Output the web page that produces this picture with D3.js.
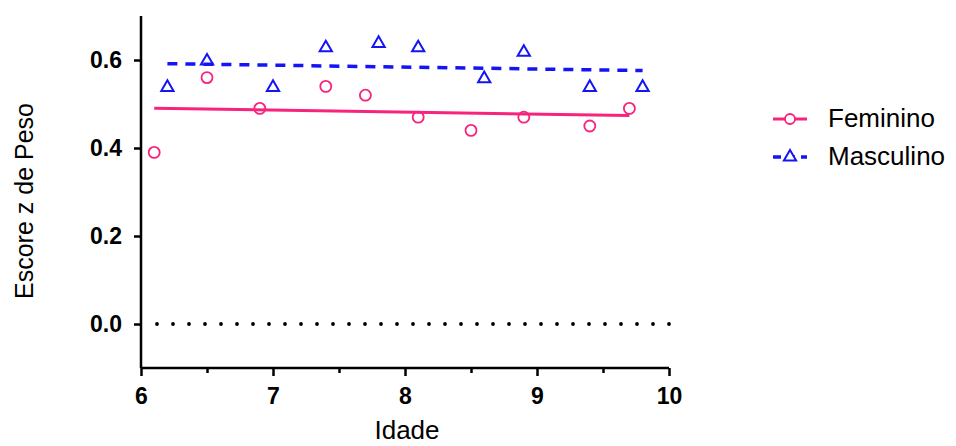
<!DOCTYPE html>
<html>
<head>
<meta charset="utf-8">
<script src="https://cdn.jsdelivr.net/npm/d3@7"></script>
<style>
body { margin: 0; background: #fff; }
text { font-family: "Liberation Sans", Arial, sans-serif; }
</style>
</head>
<body>
<svg id="chart" width="956" height="446"></svg>
<script>
// data
var femIdade = [6.1, 6.5, 6.9, 7.4, 7.7, 8.1, 8.5, 8.9, 9.4, 9.7];
var femEscore = [0.39, 0.56, 0.49, 0.54, 0.52, 0.47, 0.44, 0.47, 0.45, 0.49];
var mascIdade = [6.2, 6.5, 7.0, 7.4, 7.8, 8.1, 8.6, 8.9, 9.4, 9.8];
var mascEscore = [0.54, 0.60, 0.54, 0.63, 0.64, 0.63, 0.56, 0.62, 0.54, 0.54];
var xTicks = [6, 7, 8, 9, 10];
var xMinor = [6.5, 7.5, 8.5, 9.5];
var yTicks = [0.0, 0.2, 0.4, 0.6];

var pink = "#f7237d";
var blue = "#1414f5";

var svg = d3.select("#chart");

var x = d3.scaleLinear().domain([6, 10]).range([141, 669]);
var y = d3.scaleLinear().domain([-0.1, 0.7]).range([368, 16]);

// linear fit for each series
function fit(xs, ys) {
	let mx = d3.mean(xs), my = d3.mean(ys);
	let sxy = 0, sxx = 0;
	for (let i = 0; i < xs.length; i++) {
		sxy += (xs[i] - mx) * (ys[i] - my);
		sxx += (xs[i] - mx) * (xs[i] - mx);
	}
	let b = sxy / sxx;
	let x0 = d3.min(xs), x1 = d3.max(xs);
	return [[x0, my + b * (x0 - mx)], [x1, my + b * (x1 - mx)]];
}

// zero reference line
svg.append("line")
	.attr("x1", x(6) + 16).attr("x2", x(10) + 1)
	.attr("y1", y(0)).attr("y2", y(0))
	.attr("stroke", "#000")
	.attr("stroke-width", 3.8)
	.attr("stroke-linecap", "round")
	.attr("stroke-dasharray", "0 16");

// axes
var yAxis = svg.append("g")
	.attr("transform", "translate(" + x(6) + ",0)")
	.call(d3.axisLeft(y).tickValues(yTicks).tickFormat(d3.format(".1f")).tickSize(7).tickPadding(12));
var xAxis = svg.append("g")
	.attr("transform", "translate(0," + y(-0.1) + ")")
	.call(d3.axisBottom(x).tickValues(xTicks).tickFormat(d3.format("d")).tickSize(8).tickPadding(12));

svg.append("g")
	.attr("transform", "translate(0," + y(-0.1) + ")")
	.call(d3.axisBottom(x).tickValues(xMinor).tickFormat("").tickSize(5))
	.select(".domain").remove();

svg.selectAll(".domain").attr("stroke", "#000").attr("stroke-width", 2.5);
svg.selectAll(".tick line").attr("stroke", "#000").attr("stroke-width", 2.5);
yAxis.select(".domain").attr("d", "M0," + y(0.7) + "V" + y(-0.1));
xAxis.select(".domain").attr("d", "M" + x(6) + ",0H" + x(10));
svg.selectAll(".tick text")
	.attr("font-family", "'Liberation Sans', Arial, sans-serif")
	.attr("font-size", 23)
	.attr("font-weight", "bold")
	.attr("fill", "#000");

// axis titles
svg.append("text")
	.attr("x", 407).attr("y", 439)
	.attr("text-anchor", "middle")
	.attr("font-size", 26)
	.text("Idade");
svg.append("text")
	.attr("transform", "translate(33,201) rotate(-90)")
	.attr("text-anchor", "middle")
	.attr("font-size", 25)
	.text("Escore z de Peso");

var line = d3.line().x(d => x(d[0])).y(d => y(d[1]));

// fit lines
svg.append("path")
	.attr("d", line(fit(femIdade, femEscore)))
	.attr("fill", "none").attr("stroke", pink).attr("stroke-width", 3);
svg.append("path")
	.attr("d", line(fit(mascIdade, mascEscore)))
	.attr("fill", "none").attr("stroke", blue).attr("stroke-width", 3.5)
	.attr("stroke-dasharray", "10 8");

// points
var tri = d3.symbol().type(d3.symbolTriangle).size(65);

svg.selectAll(".fem")
	.data(d3.zip(femIdade, femEscore))
	.enter().append("circle")
	.attr("cx", d => x(d[0])).attr("cy", d => y(d[1]))
	.attr("r", 5.5)
	.attr("fill", "none").attr("stroke", pink).attr("stroke-width", 1.8);

svg.selectAll(".masc")
	.data(d3.zip(mascIdade, mascEscore))
	.enter().append("path")
	.attr("d", tri)
	.attr("transform", d => "translate(" + x(d[0]) + "," + (y(d[1]) + 1) + ")")
	.attr("fill", "none").attr("stroke", blue).attr("stroke-width", 2);

// legend
var legend = svg.append("g");
legend.append("line")
	.attr("x1", 773).attr("x2", 807).attr("y1", 119).attr("y2", 119)
	.attr("stroke", pink).attr("stroke-width", 3);
legend.append("circle")
	.attr("cx", 790).attr("cy", 119).attr("r", 5)
	.attr("fill", "#fff").attr("stroke", pink).attr("stroke-width", 1.8);
legend.append("text")
	.attr("x", 828).attr("y", 127)
	.attr("font-size", 26)
	.text("Feminino");

legend.append("line")
	.attr("x1", 773).attr("x2", 807).attr("y1", 157).attr("y2", 157)
	.attr("stroke", blue).attr("stroke-width", 3.5)
	.attr("stroke-dasharray", "8 6");
legend.append("path")
	.attr("d", tri)
	.attr("transform", "translate(790,157)")
	.attr("fill", "#fff").attr("stroke", blue).attr("stroke-width", 2);
legend.append("text")
	.attr("x", 828).attr("y", 165)
	.attr("font-size", 26)
	.text("Masculino");
</script>
</body>
</html>
